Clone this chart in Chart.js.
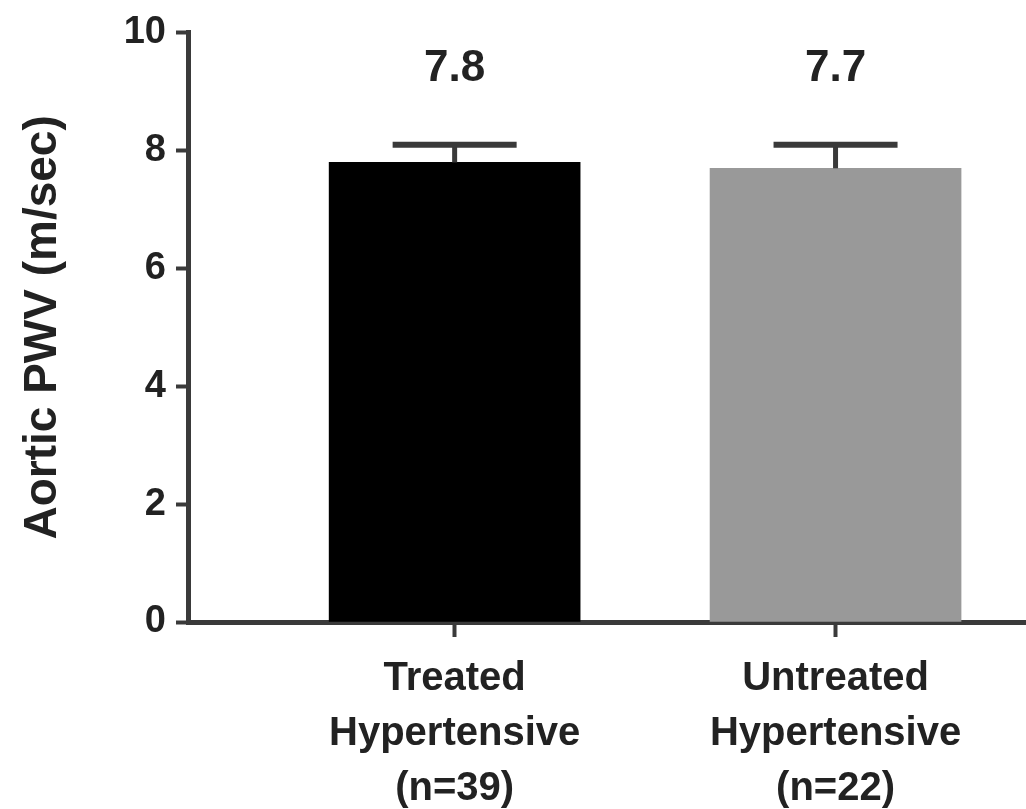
<!DOCTYPE html>
<html>
<head>
<meta charset="utf-8">
<title>Aortic PWV</title>
<script src="https://cdn.jsdelivr.net/npm/chart.js@4.4.1/dist/chart.umd.min.js"></script>
<style>
  html, body { margin: 0; padding: 0; background: #fff; }
  #wrap { width: 1026px; height: 809px; position: relative; }
</style>
</head>
<body>
<div id="wrap"><canvas id="pwv"></canvas></div>
<script>
// groups, means and upper SEM
const groups = [
  ['Treated', 'Hypertensive', '(n=39)'],
  ['Untreated', 'Hypertensive', '(n=22)']
];
const meanPWV = [7.8, 7.7];
const upperErr = [0.3, 0.4];
const barColors = ['#000000', '#999999'];
const yTicks = [0, 2, 4, 6, 8, 10];

const axisColor = '#3a3a3a';
const fontFamily = '"Liberation Sans", Arial, sans-serif';

// whisker + cap above each bar, and the mean written over it
const errorBars = {
  id: 'errorBars',
  afterDatasetsDraw(chart) {
    const ctx = chart.ctx;
    const y = chart.scales.y;
    const meta = chart.getDatasetMeta(0);
    ctx.save();
    meta.data.forEach((bar, i) => {
      const top = y.getPixelForValue(meanPWV[i] + upperErr[i]);
      ctx.strokeStyle = axisColor;
      ctx.lineWidth = 5;
      ctx.beginPath();
      ctx.moveTo(bar.x, bar.y);
      ctx.lineTo(bar.x, top);
      ctx.stroke();
      ctx.lineWidth = 6;
      ctx.beginPath();
      ctx.moveTo(bar.x - 62, top);
      ctx.lineTo(bar.x + 62, top);
      ctx.stroke();

      ctx.fillStyle = '#222';
      ctx.font = 'bold 44px ' + fontFamily;
      ctx.textAlign = 'center';
      ctx.textBaseline = 'middle';
      ctx.fillText(meanPWV[i].toFixed(1), bar.x, top - 76);
    });
    ctx.restore();
  }
};

new Chart(document.getElementById('pwv'), {
  type: 'bar',
  data: {
    datasets: [{
      data: meanPWV.map((v, i) => ({ x: i + 1, y: v })),
      backgroundColor: barColors,
      borderWidth: 0,
      barThickness: 251
    }]
  },
  plugins: [errorBars],
  options: {
    responsive: true,
    maintainAspectRatio: false,
    animation: false,
    layout: { padding: { top: 30, right: 0, left: 0, bottom: 0 } },
    plugins: {
      legend: { display: false },
      tooltip: { enabled: false }
    },
    scales: {
      x: {
        type: 'linear',
        min: 0.3,
        max: 2.5,
        offset: false,
        afterBuildTicks: (scale) => { scale.ticks = [{ value: 1 }, { value: 2 }]; },
        afterFit: (scale) => { scale.height = 187; },
        ticks: {
          autoSkip: false,
          maxRotation: 0,
          padding: 14,
          color: '#222',
          font: { family: fontFamily, size: 40, weight: 'bold', lineHeight: 1.38 },
          callback: (value) => groups[value - 1]
        },
        grid: { offset: false, drawOnChartArea: false, tickLength: 15, tickWidth: 4, tickColor: axisColor },
        border: { color: axisColor, width: 5 }
      },
      y: {
        min: 0,
        max: 10,
        afterBuildTicks: (scale) => { scale.ticks = yTicks.map(v => ({ value: v })); },
        afterFit: (scale) => { scale.width = 188; },
        ticks: {
          padding: 10,
          color: '#222',
          font: { family: fontFamily, size: 38, weight: 'bold' }
        },
        grid: { drawOnChartArea: false, tickLength: 12, tickWidth: 4, tickColor: axisColor },
        border: { color: axisColor, width: 5 },
        title: {
          display: true,
          text: 'Aortic PWV (m/sec)',
          color: '#222',
          padding: { top: 16, bottom: 0 },
          font: { family: fontFamily, size: 46, weight: 'bold' }
        }
      }
    }
  }
});
</script>
</body>
</html>
